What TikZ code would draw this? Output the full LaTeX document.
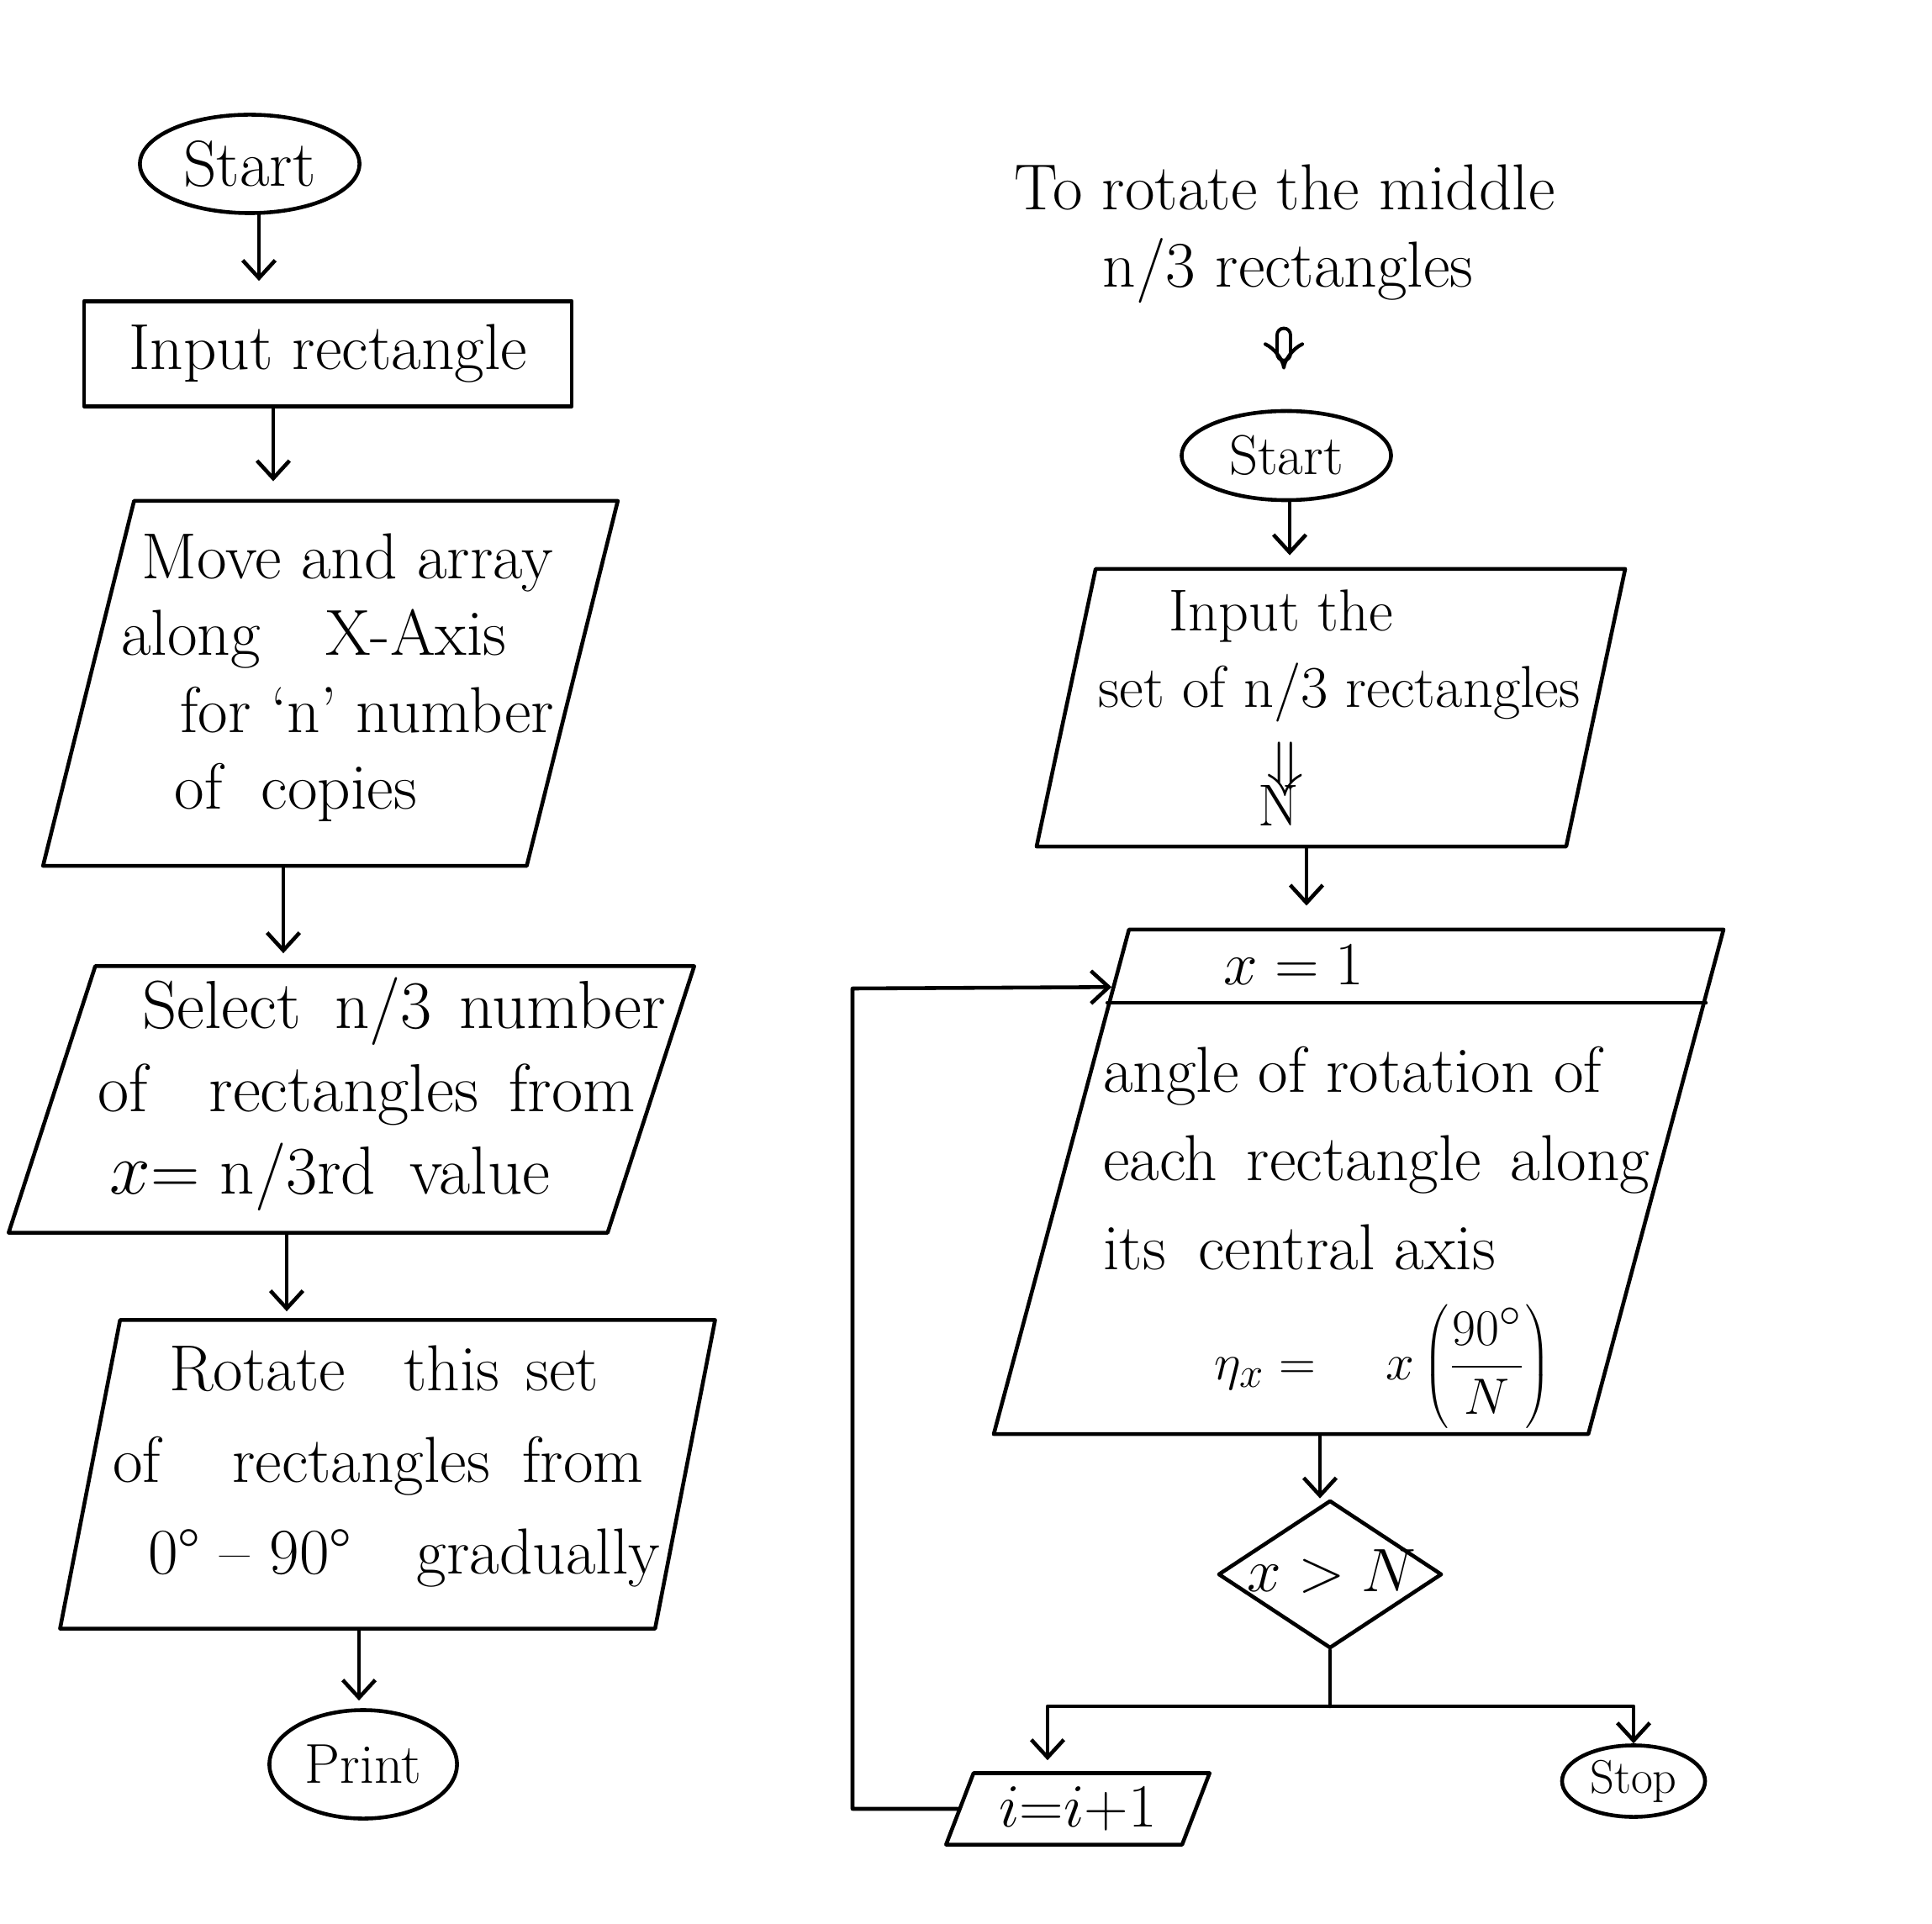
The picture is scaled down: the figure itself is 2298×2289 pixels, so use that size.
\documentclass[tikz,border=0pt]{standalone}
\usetikzlibrary{shapes.geometric,arrows.meta,calc}
\begin{document}
\begin{tikzpicture}[x=0.01cm,y=-0.01cm,line width=1.3pt,line cap=round,line join=round,
  txt/.style={font=\fontsize{22}{27}\selectfont, inner sep=0pt},
  term/.style={ellipse, draw, inner sep=0pt, font=\fontsize{22}{27}\selectfont},
  para/.style={trapezium, draw},
  arr/.style={-{Straight Barb[length=6pt,width=11pt]}},
  dbl/.style={double, double distance=3.5pt, line width=1.2pt, -{Implies[scale=1.4]}}]
\fill[white] (0,0) rectangle (2298,2289);
\useasboundingbox (0,0) rectangle (2298,2289);

% ---------- left column ----------
\node[term, minimum width=2.61cm, minimum height=1.17cm] (start1) at (297,195) {Start};
\node[draw, rectangle, minimum width=5.8cm, minimum height=1.25cm, txt] (inrect) at (390,421) {Input rectangle};
\node[para, trapezium left angle=76, trapezium right angle=104, inner xsep=2.334cm, inner ysep=2.17cm] (p1) at (393,813) {};
\node[txt, anchor=west, align=left, font=\fontsize{22}{26}\selectfont] (p1t) at (142,806)
  {\hspace*{7pt}Move and array\\ along\hspace{1em}X-Axis\\ \hspace*{20pt}for ‘n’ number\\ \hspace*{18pt}of\hspace{0.6em}copies};
\node[para, trapezium left angle=72, trapezium right angle=108, inner xsep=3.045cm, inner ysep=1.585cm] (p2) at (418,1308) {};
\node[txt, anchor=west, align=left, font=\fontsize{23}{28}\selectfont] (p2t) at (114,1302)
  {\hspace*{15pt}Select\hspace{0.5em}n/3\hspace{0.4em}number\\ of\hspace{0.9em}rectangles\hspace{0.45em}from\\ \hspace*{4pt}$x$= n/3rd\hspace{0.5em}value};
\node[para, trapezium left angle=79, trapezium right angle=101, inner xsep=3.18cm, inner ysep=1.835cm] (p3) at (461,1754) {};
\node[txt, anchor=west, align=left, font=\fontsize{22}{31}\selectfont] (p3t) at (132,1745)
  {\hspace*{19pt}Rotate\hspace{0.9em}this\hspace{0.4em}set\\ of\hspace{1.1em}rectangles\hspace{0.5em}from\\ \hspace*{12pt}0° – 90°\hspace{1em}gradually};
\node[term, minimum width=2.23cm, minimum height=1.29cm, font=\fontsize{19}{24}\selectfont] (print) at (432,2099) {Print};

\draw[arr, shorten >=0.22cm] (start1.south -| 308,0) -- (inrect.north -| 308,0);
\draw[arr, shorten >=0.21cm] (inrect.south -| 325,0) -- (p1.north -| 325,0);
\draw[arr, shorten >=0.13cm] (p1.south -| 337,0) -- (p2.north -| 337,0);
\draw[arr, shorten >=0.08cm] (p2.south -| 341,0) -- (p3.north -| 341,0);
\draw[arr, shorten >=0.09cm] (p3.south -| 427,0) -- (print.north -| 427,0);

% ---------- right column ----------
\node[txt] (t1) at (1528,223) {To rotate the middle};
\node[txt] (t2) at (1532,322) {n/3 rectangles};
\node[term, minimum width=2.49cm, minimum height=1.06cm, font=\fontsize{19}{24}\selectfont] (start2) at (1530,542) {Start};
\draw[dbl, shorten <=0.36cm, shorten >=0.47cm] (t2.south -| 1527,0) -- (start2.north -| 1527,0);

\node[para, trapezium left angle=78, trapezium right angle=102, inner xsep=2.797cm, inner ysep=1.65cm] (p4) at (1583,842) {};
\node[txt, anchor=west, align=left, font=\fontsize{20}{26}\selectfont] (p4t) at (1304,842)
  {\hspace*{24pt}Input the\\ set of n/3 rectangles\\ \hspace*{57pt}$\Downarrow$\\[-12pt] \hspace*{54pt}N};

\node[para, trapezium left angle=75, trapezium right angle=105, inner xsep=2.73cm, inner ysep=3.0cm] (p5) at (1616,1406) {};
\coordinate (p5sepL) at ($(p5.bottom left corner)!0.852!(p5.top left corner)$);
\coordinate (p5sepR) at ($(p5.bottom right corner)!0.852!(p5.top right corner)$);
\coordinate (p5in) at ($(p5.bottom left corner)!0.883!(p5.top left corner)$);
\draw (p5sepL) -- (p5sepR);
\node[txt] (p5h) at (1539,1148) {$x = 1$};
\node[txt, anchor=west, align=left, font=\fontsize{22}{30}\selectfont] (p5t) at (1310,1378)
  {angle of rotation of\\ each\hspace{0.45em}rectangle\hspace{0.45em}along\\ its\hspace{0.5em}central axis};
\node[txt, font=\fontsize{19}{24}\selectfont] (p5f) at (1645,1626) {$\eta_x = \quad x\left(\displaystyle\frac{90^\circ}{N}\right)$};

\node[diamond, draw, minimum width=2.66cm, minimum height=1.76cm, inner sep=0pt] (dec) at (1582,1873) {};
\node[txt] (dect) at (1584,1870) {$x > N$};
\node[para, trapezium left angle=69, trapezium right angle=111, inner xsep=1.24cm, inner ysep=0.425cm] (inc) at (1282,2152) {};
\node[txt, font=\fontsize{20}{24}\selectfont] (inct) at (1282,2152) {$i{=}i{+}1$};
\node[term, minimum width=1.70cm, minimum height=0.85cm, font=\fontsize{16}{20}\selectfont] (stop) at (1943,2119) {Stop};

\draw[arr, shorten >=0.14cm] (start2.south -| 1534,0) -- (p4.north -| 1534,0);
\draw[arr, shorten >=0.26cm] (p4.south -| 1554,0) -- (p5.north -| 1554,0);
\draw[arr] (p5.south -| 1570,0) -- (dec.north -| 1570,0);
\draw (dec.south) -- (dec.south |- 0,2030) coordinate (split);
\draw[arr, shorten >=0.13cm] (split) -| (inc.north -| 1246,0);
\draw[arr] (split) -| (stop.north);
\draw[arr] (inc.west) -| (1014,1176) -- (p5in);
\end{tikzpicture}
\end{document}
